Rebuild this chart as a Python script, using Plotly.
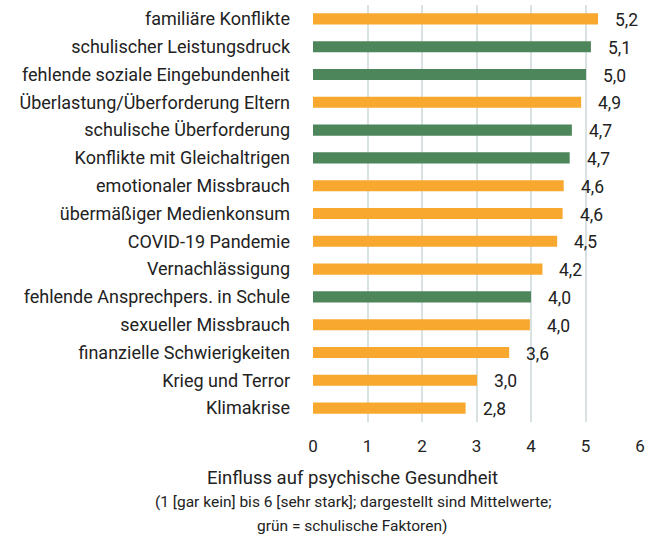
import plotly.graph_objects as go

categories = [
    "familiäre Konflikte",
    "schulischer Leistungsdruck",
    "fehlende soziale Eingebundenheit",
    "Überlastung/Überforderung Eltern",
    "schulische Überforderung",
    "Konflikte mit Gleichaltrigen",
    "emotionaler Missbrauch",
    "übermäßiger Medienkonsum",
    "COVID-19 Pandemie",
    "Vernachlässigung",
    "fehlende Ansprechpers. in Schule",
    "sexueller Missbrauch",
    "finanzielle Schwierigkeiten",
    "Krieg und Terror",
    "Klimakrise",
]
values = [5.23, 5.10, 5.01, 4.92, 4.75, 4.71, 4.60, 4.58, 4.48, 4.21, 4.00, 3.98, 3.60, 3.01, 2.80]
school_factor = [False, True, True, False, True, True, False, False, False, False, True, False, False, False, False]
value_labels = ["5,2", "5,1", "5,0", "4,9", "4,7", "4,7", "4,6", "4,6", "4,5", "4,2", "4,0", "4,0", "3,6", "3,0", "2,8"]
x_ticks = [0, 1, 2, 3, 4, 5, 6]

ORANGE = "#F8A82E"
GREEN = "#4E865C"
colors = [GREEN if s else ORANGE for s in school_factor]

fig = go.Figure()
fig.add_trace(go.Bar(
    x=values, y=categories, orientation="h",
    marker=dict(color=colors, line=dict(width=0)),
    width=0.4, hoverinfo="skip",
))

for c, v, lab in zip(categories, values, value_labels):
    fig.add_annotation(x=v, y=c, text=lab, showarrow=False, xanchor="left",
                       xshift=15, yshift=-1, font=dict(size=17.5, color="#222222"))

fig.add_annotation(xref="paper", yref="paper", x=(352 - 313) / 327, y=0, yshift=-56,
                   text="Einfluss auf psychische Gesundheit", showarrow=False,
                   xanchor="center", yanchor="middle", font=dict(size=18.5, color="#222222"))
fig.add_annotation(xref="paper", yref="paper", x=(353 - 313) / 327, y=0, yshift=-80,
                   text="(1 [gar kein] bis 6 [sehr stark]; dargestellt sind Mittelwerte;",
                   showarrow=False, xanchor="center", yanchor="middle",
                   font=dict(size=15.5, color="#222222"))
fig.add_annotation(xref="paper", yref="paper", x=(352 - 313) / 327, y=0, yshift=-104,
                   text="grün = schulische Faktoren)",
                   showarrow=False, xanchor="center", yanchor="middle",
                   font=dict(size=15.5, color="#222222"))

fig.update_layout(
    width=659, height=535,
    margin=dict(l=313, r=19, t=5, b=113),
    plot_bgcolor="white", paper_bgcolor="white",
    font=dict(family="Roboto, sans-serif", color="#222222"),
    showlegend=False,
    bargap=0.6,
)
fig.update_xaxes(range=[0, 6], tickvals=x_ticks, ticktext=[str(t) for t in x_ticks],
                 showgrid=True, gridcolor="#D8E2E2", gridwidth=2, zeroline=False,
                 showline=False, tickfont=dict(size=17, color="#222222"),
                 ticks="", ticklabelstandoff=12, fixedrange=True)
fig.update_yaxes(categoryorder="array", categoryarray=categories[::-1],
                 showgrid=False, zeroline=False, showline=False,
                 tickfont=dict(size=18, color="#222222"), ticks="",
                 ticklabelstandoff=22, fixedrange=True)

fig.write_html("out.html", config={"displayModeBar": False},
               post_script="document.body.style.margin='0';")
